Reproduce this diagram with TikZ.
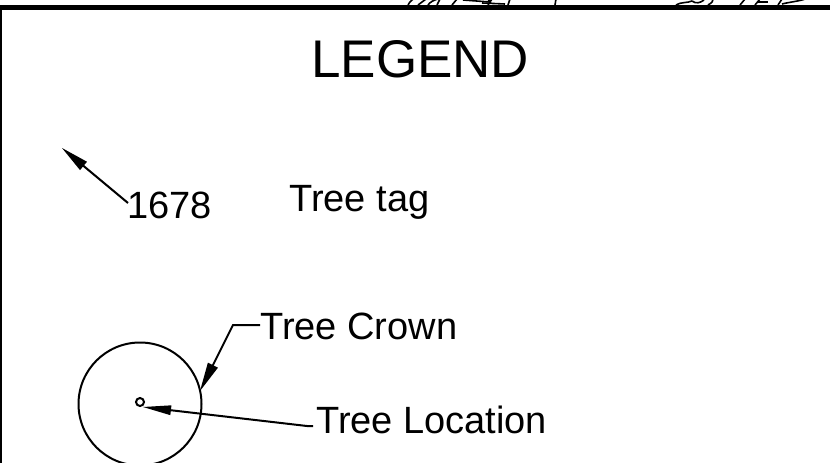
\documentclass[tikz,border=0pt]{standalone}
\usepackage{fontspec}
\setmainfont{Liberation Sans}
\usetikzlibrary{calc}
\begin{document}
\begin{tikzpicture}[x=1pt,y=-1pt,
  lbl/.style={anchor=base west,inner sep=0pt,font=\fontsize{38}{40}\selectfont},
  ttl/.style={anchor=base west,inner sep=0pt,font=\fontsize{53}{56}\selectfont},
  ldr/.style={line width=2pt},
  thin/.style={line width=2pt},
  frag/.style={line width=1.6pt}]
\useasboundingbox (0,0) rectangle (830,463);
\fill[white] (0,0) rectangle (830,463);
% frame
\draw[line width=5pt] (0,7.5) -- (830,7.5);
\draw[line width=2.2pt] (1,7.5) -- (1,463);
% fragments of the plan above the frame
\draw[frag] (408,5) .. controls (410,1) and (413,-1) .. (415,-2);
\draw[frag] (418,5) -- (426,-1);
\draw[frag] (428,5) .. controls (430,2) and (434,0) .. (438,-1);
\draw[frag] (437,5) -- (440,-1);
\draw[frag] (452,5) -- (457,-1);
\draw[frag] (463,0) -- (490,2) -- (488,-1);
\draw[frag] (488,5) -- (492,-1);
\draw[frag] (508,5) -- (510,-1);
\draw[frag] (482,3) -- (505,4);
\draw[frag] (555,5) -- (556,-1);
\draw[frag] (676,5) .. controls (680,2) and (688,3) .. (692,1);
\draw[frag] (692,1) .. controls (696,4) and (700,3) .. (704,0);
\draw[frag] (708,5) .. controls (712,3) and (714,0) .. (712,-1);
\draw[frag] (740,5) -- (745,-1);
\draw[frag] (755,5) -- (760,-1);
\draw[frag] (758,2) -- (768,2);
\draw[frag] (778,5) -- (782,-1);
\draw[frag] (782,4) .. controls (790,2) and (800,1) .. (805,-1);
% texts
\node[ttl] (title) at (311,77) {LEGEND};
\node[lbl] (tag) at (127,218) {1678};
\node[lbl] (tagtxt) at (289,211) {Tree tag};
\node[lbl] (crown) at (260,339) {Tree Crown};
\node[lbl] (loc) at (316,433) {Tree Location};
% symbols
\draw[thin] (140,404) circle[radius=61.5];
\node[draw,circle,thin,minimum size=8pt,inner sep=0pt] (pt) at (140,402) {};
% tag arrow
\coordinate (tagtail) at (128,203);
\coordinate (tagtip) at (62,148);
\draw[ldr] (tagtail) -- ($(tagtip)!20pt!(tagtail)$);
\fill (tagtip) -- ($(tagtip)!28.5pt!11:(tagtail)$) -- ($(tagtip)!28.5pt!-11:(tagtail)$) -- cycle;
% crown arrow
\coordinate (crownend) at (260,325);
\coordinate (crownbend) at (233,325);
\coordinate (crowntip) at (200,391);
\draw[ldr] (crownend) -- (crownbend) -- ($(crowntip)!20pt!(crownbend)$);
\fill (crowntip) -- ($(crowntip)!29.5pt!11:(crownbend)$) -- ($(crowntip)!29.5pt!-11:(crownbend)$) -- cycle;
% location arrow
\coordinate (locend) at (313,426);
\coordinate (locbend) at (307,426);
\coordinate (loctip) at (143,407);
\draw[ldr] (locend) -- (locbend) -- ($(loctip)!20pt!(locbend)$);
\fill (loctip) -- ($(loctip)!28.5pt!10:(locbend)$) -- ($(loctip)!28.5pt!-10:(locbend)$) -- cycle;
\end{tikzpicture}
\end{document}
